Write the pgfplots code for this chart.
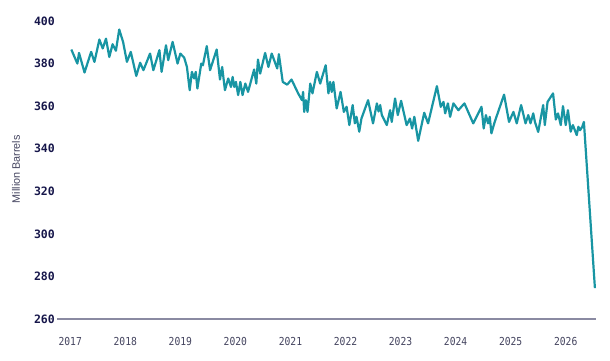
\documentclass[border=0pt]{standalone}
\usepackage{pgfplots}
\pgfplotsset{compat=1.18}
\usepackage{fontspec}
\setmainfont{Liberation Sans}
\newfontfamily\xfont[FakeStretch=0.88]{DejaVu Sans Mono}
\newfontfamily\yfont{DejaVu Sans Mono}
\definecolor{teal1}{HTML}{1895A3}
\definecolor{navy}{HTML}{16164A}
\definecolor{grayn}{HTML}{44445F}
\definecolor{axisg}{HTML}{8A8AA2}
\begin{document}
\begin{tikzpicture}[x=1pt,y=1pt]
\path[use as bounding box] (0,0) rectangle (610,360);
\begin{axis}[
  at={(57pt,41pt)}, anchor=south west,
  scale only axis, width=539pt, height=298pt,
  xmin=2016.76, xmax=2026.55, ymin=260, ymax=400,
  axis x line=bottom, axis y line=left,
  x axis line style={-, draw=axisg, line width=1.2pt},
  y axis line style={draw=none},
  major tick length=0pt,
  xtick={2017,2018,...,2026},
  ytick={260,280,...,400},
  xticklabel style={font=\xfont\fontsize{11}{13}\selectfont, text=grayn, anchor=north, inner sep=0pt, yshift=-18pt},
  yticklabel style={font=\yfont\bfseries\fontsize{11.5}{13}\selectfont, text=navy, anchor=east, inner sep=0pt, xshift=-2pt},
  /pgf/number format/assume math mode=true,
  xticklabel={\pgfmathprintnumber[precision=0,1000 sep={}]{\tick}},
  yticklabel={\pgfmathprintnumber[precision=0]{\tick}},
  ylabel={Million Barrels},
  ylabel style={at={(axis description cs:-0.076,0.503)}, anchor=center, font=\fontsize{10.8}{12}\selectfont, text=grayn},
  clip=false,
]
\addplot[teal1, line width=2.2pt, line join=round] coordinates {
(2017.02,386.6)(2017.13,380.0)(2017.16,385.0)(2017.26,375.8)(2017.38,385.5)(2017.44,380.8)
(2017.53,391.3)(2017.59,387.1)(2017.65,391.7)(2017.71,383.1)(2017.77,389.1)(2017.83,386.0)
(2017.89,396.0)(2017.96,390.2)(2018.03,380.8)(2018.10,385.5)(2018.20,374.2)(2018.27,380.4)
(2018.33,376.9)(2018.45,384.7)(2018.51,376.9)(2018.62,386.3)(2018.66,376.1)(2018.74,388.6)
(2018.78,381.6)(2018.86,390.2)(2018.95,380.0)(2019.00,384.7)(2019.07,382.8)(2019.12,378.4)
(2019.17,367.5)(2019.21,376.1)(2019.25,373.0)(2019.28,376.1)(2019.31,368.3)(2019.38,380.0)
(2019.41,379.2)(2019.48,388.2)(2019.54,376.9)(2019.66,386.6)(2019.72,372.5)(2019.76,378.4)
(2019.81,367.5)(2019.87,373.0)(2019.92,369.0)(2019.95,373.7)(2019.98,369.0)(2020.01,371.4)
(2020.05,365.2)(2020.09,371.4)(2020.13,365.2)(2020.18,370.6)(2020.23,366.7)(2020.34,377.2)
(2020.38,370.6)(2020.41,381.9)(2020.45,375.3)(2020.54,385.0)(2020.60,378.4)(2020.66,384.7)
(2020.76,377.7)(2020.79,384.4)(2020.86,371.4)(2020.94,370.1)(2021.02,372.5)(2021.14,366.0)
(2021.21,362.8)(2021.23,366.7)(2021.25,357.3)(2021.28,362.8)(2021.31,357.3)(2021.36,370.6)
(2021.40,366.0)(2021.48,376.1)(2021.54,370.6)(2021.64,379.2)(2021.69,366.0)(2021.72,371.4)
(2021.75,366.7)(2021.78,371.4)(2021.84,358.9)(2021.91,366.7)(2021.97,357.3)(2022.02,359.7)
(2022.07,351.1)(2022.13,360.5)(2022.17,351.9)(2022.20,355.0)(2022.25,348.0)(2022.29,354.2)
(2022.41,362.8)(2022.50,351.9)(2022.57,361.3)(2022.60,357.5)(2022.63,360.5)(2022.66,355.8)
(2022.75,351.1)(2022.81,358.1)(2022.84,352.6)(2022.90,363.6)(2022.95,355.8)(2023.01,362.5)
(2023.11,351.1)(2023.17,354.2)(2023.21,349.5)(2023.25,355.0)(2023.32,343.7)(2023.43,356.9)
(2023.50,351.9)(2023.66,369.4)(2023.73,359.7)(2023.78,362.0)(2023.81,356.6)(2023.86,361.3)
(2023.90,355.0)(2023.96,361.3)(2024.05,358.1)(2024.16,361.3)(2024.32,351.9)(2024.47,359.7)
(2024.51,349.5)(2024.55,355.8)(2024.59,351.9)(2024.62,355.0)(2024.65,347.2)(2024.71,352.6)
(2024.88,365.4)(2024.97,352.6)(2025.05,357.3)(2025.11,351.9)(2025.19,360.5)(2025.27,351.9)
(2025.32,355.8)(2025.36,351.9)(2025.41,356.6)(2025.44,352.6)(2025.50,347.9)(2025.59,360.5)
(2025.62,351.1)(2025.67,362.0)(2025.77,366.0)(2025.82,353.7)(2025.86,356.6)(2025.91,351.1)
(2025.95,360.0)(2026.00,351.1)(2026.04,358.1)(2026.09,348.0)(2026.13,351.1)(2026.20,346.4)
(2026.23,350.3)(2026.26,348.7)(2026.30,350.3)(2026.33,352.6)(2026.53,274.5)
};
\end{axis}
\end{tikzpicture}
\end{document}
